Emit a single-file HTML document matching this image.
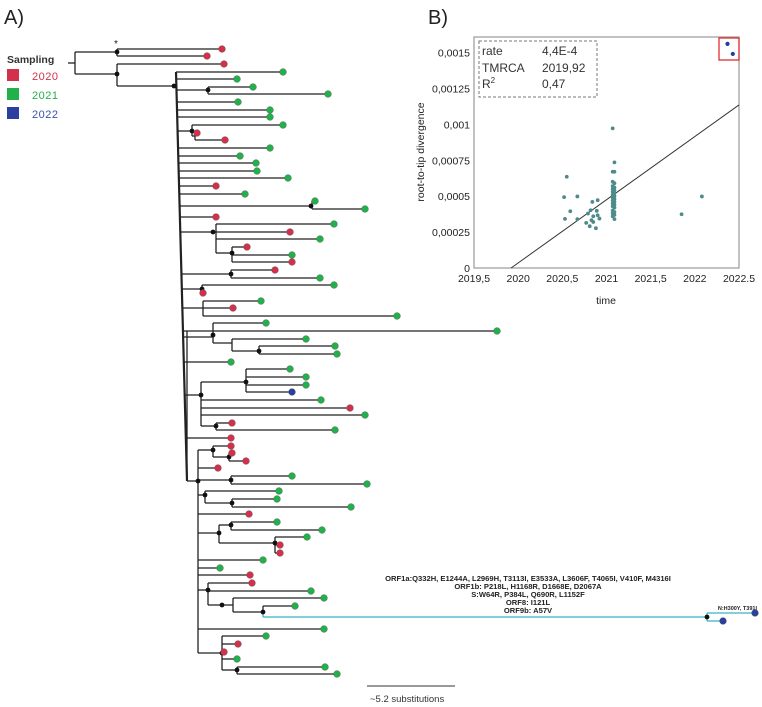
<!DOCTYPE html>
<html><head><meta charset="utf-8"><style>
body{margin:0;background:#fff;}
svg{display:block;font-family:"Liberation Sans",sans-serif;}
</style></head><body>
<svg id="s" width="762" height="707" viewBox="0 0 762 707">
<text x="4" y="24" font-size="20" fill="#222">A)</text>
<text x="428" y="24" font-size="20" fill="#222">B)</text>
<g>
<text x="7" y="63" font-size="10.5" font-weight="bold" fill="#333">Sampling</text>
<rect x="7" y="69" width="12" height="12" fill="#d3304b"/>
<text x="32" y="80" font-size="11" fill="#d3304b" letter-spacing="0.5">2020</text>
<rect x="7" y="88" width="12" height="12" fill="#22b04b"/>
<text x="32" y="99" font-size="11" fill="#22b04b" letter-spacing="0.5">2021</text>
<rect x="7" y="107" width="12" height="12" fill="#2a3f9e"/>
<text x="32" y="118" font-size="11" fill="#3a4fae" letter-spacing="0.5">2022</text>
</g>
<g id="tree"></g>
<g font-size="7.6" font-weight="bold" fill="#222" text-anchor="middle">
<text x="528" y="581">ORF1a:Q332H, E1244A, L2969H, T3113I, E3533A, L3606F, T4065I, V410F, M4316I</text>
<text x="528" y="589">ORF1b: P218L, H1168R, D1668E, D2067A</text>
<text x="528" y="597">S:W64R, P384L, Q690R, L1152F</text>
<text x="528" y="605">ORF8: I121L</text>
<text x="528" y="613">ORF9b: A57V</text>
<text x="757" y="610" font-size="5.5" text-anchor="end">N:H300Y, T391I</text>
</g>
<g>
<line x1="367" y1="686" x2="455" y2="686" stroke="#333" stroke-width="1"/>
<text x="370" y="702" font-size="9.5" fill="#333">~5.2 substitutions</text>
</g>
<g id="chart"></g>
</svg>
<script>
// ---- scatter data ----
const xTicks=[2019.5,2020,2020.5,2021,2021.5,2022,2022.5];
const xTickLabels=["2019,5","2020","2020,5","2021","2021,5","2022","2022.5"];
const yTicks=[0,0.00025,0.0005,0.00075,0.001,0.00125,0.0015];
const yTickLabels=["0","0,00025","0,0005","0,00075","0,001","0,00125","0,0015"];
const ptTime=[2020.55,2020.52,2020.53,2020.59,2020.67,2020.67,2020.77,2020.79,2020.81,2020.82,2020.84,2020.85,2020.85,2020.88,2020.9,2020.89,2020.92,2020.9,2020.83,
2021.07,2021.09,2021.07,2021.09,2021.07,2021.09,2021.07,2021.09,2021.07,2021.09,2021.07,2021.09,2021.07,2021.09,2021.07,2021.09,2021.07,2021.09,2021.07,2021.09,2021.07,2021.09,2021.07,2021.09,2021.07,2021.09,2021.07,2021.09,
2021.85,2022.08];
const ptDiv=[0.000635,0.000493,0.000342,0.000395,0.000498,0.00034,0.000314,0.000379,0.000291,0.000402,0.00046,0.00036,0.00032,0.000277,0.000472,0.000398,0.000344,0.000367,0.000333,
0.000972,0.000735,0.00067,0.00067,0.0006,0.00059,0.00057,0.00056,0.00055,0.00054,0.00053,0.00052,0.00051,0.0005,0.00049,0.00048,0.00047,0.00046,0.00045,0.00044,0.00043,0.00042,0.0004,0.00039,0.00038,0.00037,0.00036,0.00034,
0.000374,0.000498];
const outTime=[2022.37,2022.43];
const outDiv=[0.00156,0.00149];
const rate=4.4e-4, tmrca=2019.92;
const X0=474,X1=739,Y0=268,Y1=37;
const sx=t=>X0+(t-2019.5)/3*(X1-X0);
const sy=v=>Y0-v/0.0015*(Y0-52.5);
const NS="http://www.w3.org/2000/svg";
function mk(p,tag,a){const e=document.createElementNS(NS,tag);for(const k in a)e.setAttribute(k,a[k]);p.appendChild(e);return e;}
const ch=document.getElementById('chart');
let e=mk(ch,'rect',{x:X0,y:Y1,width:X1-X0,height:Y0-Y1,fill:'none',stroke:'#999','stroke-width':1.2});


xTicks.forEach((t,i)=>{
 let l=mk(ch,'text',{x:sx(t),y:Y0+14,'font-size':10.5,'text-anchor':'middle',fill:'#222'});l.textContent=xTickLabels[i];
 
 
});
yTicks.forEach((v,i)=>{
 let l=mk(ch,'text',{x:X0-4,y:sy(v)+4,'font-size':10.5,'text-anchor':'end',fill:'#222'});l.textContent=yTickLabels[i];
 
 
});
e=mk(ch,'text',{x:606,y:304,'font-size':10.5,'text-anchor':'middle',fill:'#222'});e.textContent='time';


e=mk(ch,'text',{x:0,y:0,'font-size':10.5,'text-anchor':'middle',fill:'#222',transform:'translate(424,152) rotate(-90)'});e.textContent='root-to-tip divergence';


e=mk(ch,'line',{x1:sx(tmrca),y1:sy(0),x2:sx(2022.5),y2:sy(rate*(2022.5-tmrca)),stroke:'#333','stroke-width':1});


ptTime.forEach((t,i)=>{
 let c=mk(ch,'circle',{cx:sx(t),cy:sy(ptDiv[i]),r:1.9,fill:'#4f8a8b'});
 
 
});
outTime.forEach((t,i)=>{
 let c=mk(ch,'circle',{cx:sx(t),cy:sy(outDiv[i]),r:2.1,fill:'#1b3fa6'});
 
 
});
e=mk(ch,'rect',{x:719,y:38,width:20,height:22,fill:'none',stroke:'#e03030','stroke-width':1.3});


e=mk(ch,'rect',{x:479,y:41,width:118,height:56,fill:'none',stroke:'#777','stroke-width':1,'stroke-dasharray':'3,2'});


[["rate","4,4E-4",55],["TMRCA","2019,92",72],["R","0,47",88]].forEach(r=>{
 let a=mk(ch,'text',{x:482,y:r[2],'font-size':12,fill:'#333'});a.textContent=r[0];
 if(r[0]==="R"){let s=mk(a,'tspan',{dy:-5,'font-size':8});s.textContent='2';}
 
 
 let b=mk(ch,'text',{x:542,y:r[2],'font-size':12,fill:'#333'});b.textContent=r[1];
 
 
});

// ---- tree ----
const COL=['#d3304b','#22b04b','#2a3f9e'];
const spineX=y=>176+(Math.min(y,481)-72)/(481-72)*11;
// tips: [startX or null(spine), endX, y, colorIdx, cyan]
const tips=[[117,222,49,0],[117,207,56,0],[117,224,64,0],
[null,283,72,1],[null,237,79,1],[208,253,87,1],[208,328,94,1],[null,238,102,1],[null,270,110,1],[null,270,117,1],
[192,283,125,1],[195,197,133,0],[195,225,140,0],[null,270,148,1],[null,240,156,1],[null,256,163,1],[null,257,171,1],[null,288,178,1],
[null,216,186,0],[null,245,194,1],[312,315,201,1],[312,365,209,1],[null,216,217,0],[216,334,224,1],[216,290,232,0],[216,320,239,1],
[232,247,247,0],[232,292,255,1],[232,292,262,0],[231,275,270,0],[231,320,278,1],[202,334,285,1],[202,203,293,0],
[203,261,301,1],[203,233,308,0],[203,397,316,1],[213,266,323,1],[null,497,331,1],[232,306,339,1],[259,335,346,1],[259,337,354,1],
[null,231,362,1],[246,290,369,1],[246,306,377,1],[246,306,385,1],[246,292,392,2],[201,321,400,1],[201,350,408,0],[201,365,415,1],
[216,232,423,0],[216,335,430,1],[null,231,438,0],[213,231,446,0],[229,232,453,0],[229,246,461,0],[198,218,468,0],[231,292,476,1],[231,367,484,1],
[205,279,491,1],[232,277,499,1],[232,351,507,1],[198,249,514,0],[231,277,522,1],[231,322,530,1],[275,307,537,1],[275,280,545,0],[275,280,553,0],
[198,263,560,1],[198,220,568,1],[198,250,575,0],[208,252,583,0],[208,311,591,1],[233,324,598,1],[263,295,606,1],
[707,755,613,2,1],[707,723,621,2,1],[198,324,629,1],[222,266,636,1],[222,238,644,0],[222,224,652,0],[222,237,659,1],[237,325,667,1],[237,337,674,1]];
// internal horizontal links: [x1 or null(spine), x2, y, cyan]
const links=[[75,117,52],[75,117,74],[117,176,86],[null,208,90],[null,192,131],[192,195,136],[null,312,206],[null,213,232],[216,232,253],[213,216,232],
[null,231,274],[null,202,289],[null,203,308],[null,213,337],[213,232,343],[232,259,351],[null,201,395],[201,246,382],[201,216,426],[187,198,481],
[198,213,450],[213,229,457],[198,231,480],[198,205,495],[205,232,503],[198,219,533],[219,231,525],[219,275,543],[198,208,590],[208,233,605],[233,263,612],
[263,707,617,1],[198,222,653],[222,237,670]];
// verticals: [x, y1, y2, cyan]
const verts=[[75,52,74],[117,49,56],[117,64,86],[208,87,94],[192,125,136],[195,133,140],[312,201,209],[216,224,253],[232,247,262],[231,270,278],[202,285,293],[203,301,316],
[213,323,343],[232,339,351],[259,346,354],[187,331,481],[201,382,426],[246,369,392],[216,423,430],[198,450,653],[213,446,457],[229,453,461],[231,476,484],
[205,491,503],[232,499,507],[219,525,543],[231,522,530],[275,537,553],[208,583,605],[233,598,612],[263,606,612],[263,612,617,1],[707,613,621,1],[222,636,670],[237,667,674]];
const nodeDots=[[117,52],[117,74],[174,86],[208,90],[192,131],[311,206],[213,232],[232,253],[231,274],[202,289],[213,335],[259,351],[201,395],[246,382],[216,426],
[198,481],[213,450],[229,457],[231,480],[205,495],[232,503],[231,525],[219,533],[275,543],[208,590],[222,605],[263,612],[707,617],[222,653],[237,670]];
const tr=document.getElementById('tree');
const BL='#222',CY='#3bb5c4';
e=mk(tr,'line',{x1:68,y1:63,x2:75,y2:63,stroke:BL,'stroke-width':1.3});


e=mk(tr,'line',{x1:176,y1:72,x2:187,y2:481,stroke:BL,'stroke-width':2.2});


e=mk(tr,'text',{x:114,y:47,'font-size':10,fill:'#222'});e.textContent='*';


verts.forEach(v=>{
 let l=mk(tr,'line',{x1:v[0],y1:v[1],x2:v[0],y2:v[2],stroke:v[3]?CY:BL,'stroke-width':1.3});
 
 
});
links.forEach(h=>{
 let x1=h[0]===null?spineX(h[2]):h[0];
 let l=mk(tr,'line',{x1:x1,y1:h[2],x2:h[1],y2:h[2],stroke:h[3]?CY:BL,'stroke-width':1.3});
 
 
});
tips.forEach(t=>{
 let x1=t[0]===null?spineX(t[2]):t[0];
 let l=mk(tr,'line',{x1:x1,y1:t[2],x2:t[1],y2:t[2],stroke:t[4]?CY:BL,'stroke-width':1.3});
 
 
});
nodeDots.forEach(n=>{
 let c=mk(tr,'circle',{cx:n[0],cy:n[1],r:2.4,fill:'#111'});
 
 
});
tips.forEach(t=>{
 let c=mk(tr,'circle',{cx:t[1],cy:t[2],r:3.4,fill:COL[t[3]],stroke:'#555','stroke-width':0.4});
 
 
});
</script>
</body></html>
